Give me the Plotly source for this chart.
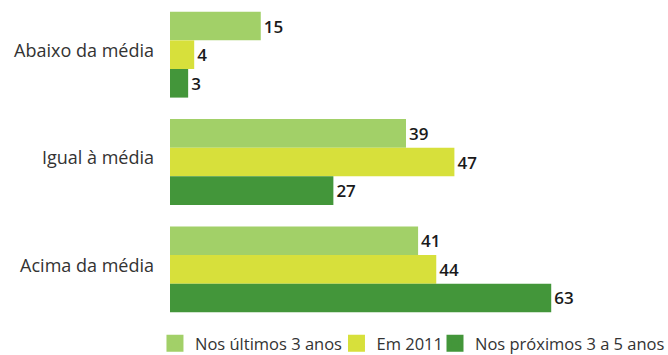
import plotly.graph_objects as go

# Categories (top to bottom) and series values
categories = ["Abaixo da média", "Igual à média", "Acima da média"]
series_names = ["Nos últimos 3 anos", "Em 2011", "Nos próximos 3 a 5 anos"]
ultimos_3_anos = [15, 39, 41]
em_2011 = [4, 47, 44]
proximos_3_5_anos = [3, 27, 63]

colors = ["#a2d068", "#d7e03b", "#43963a"]
font_family = "Open Sans, Noto Sans, sans-serif"
legend_ids = ["legend", "legend2", "legend3"]
legend_x = [0.232, 0.5037, 0.6512]

fig = go.Figure()
for name, vals, col in zip(series_names, [ultimos_3_anos, em_2011, proximos_3_5_anos], colors):
    fig.add_trace(go.Bar(
        y=categories,
        x=vals,
        name=name,
        orientation="h",
        marker=dict(color=col, line=dict(width=0)),
        text=[str(v) for v in vals],
        textposition="outside",
        constraintext="none",
        textfont=dict(family=font_family, size=17, color="#1a1a1a", weight=600),
        cliponaxis=False,
        hoverinfo="skip",
        showlegend=False,
    ))

# Legend entries: one square swatch per series, each in its own legend box
for name, col, lid in zip(series_names, colors, legend_ids):
    fig.add_trace(go.Scatter(
        x=[None], y=[None],
        mode="markers",
        name=name,
        marker=dict(symbol="square", size=12, color=col, line=dict(width=5, color=col)),
        legend=lid,
        showlegend=True,
        hoverinfo="skip",
    ))

legend_common = dict(
    orientation="h",
    xref="container",
    yref="container",
    xanchor="left",
    y=0.032,
    yanchor="middle",
    font=dict(family=font_family, size=16.5, color="#333333"),
    bgcolor="rgba(0,0,0,0)",
    borderwidth=0,
    itemsizing="trace",
)

fig.update_layout(
    width=668,
    height=355,
    barmode="group",
    bargap=0.2,
    bargroupgap=0,
    plot_bgcolor="white",
    paper_bgcolor="white",
    margin=dict(l=170, r=0, t=1, b=32),
    font=dict(family=font_family, size=18, color="#333333"),
    xaxis=dict(range=[0, 82.3], visible=False, showgrid=False, zeroline=False),
    yaxis=dict(
        autorange="reversed",
        showgrid=False,
        zeroline=False,
        showline=False,
        ticks="",
        ticklabelstandoff=15,
        ticklabelshift=4,
        tickfont=dict(family=font_family, size=18, color="#333333"),
    ),
    legend=dict(legend_common, x=legend_x[0]),
    legend2=dict(legend_common, x=legend_x[1]),
    legend3=dict(legend_common, x=legend_x[2]),
    showlegend=True,
)

fig.write_html("out.html")
